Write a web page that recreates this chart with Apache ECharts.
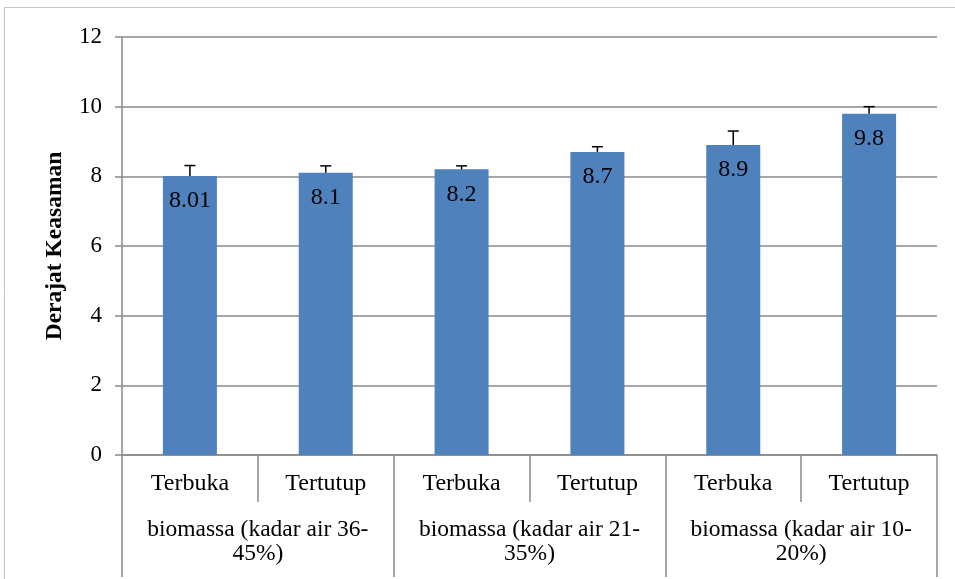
<!DOCTYPE html>
<html>
<head>
<meta charset="utf-8">
<script src="https://cdn.jsdelivr.net/npm/echarts@6/dist/echarts.min.js"></script>
<style>
html,body{margin:0;padding:0;background:#fff;}
#chart{width:955px;height:579px;}
</style>
</head>
<body>
<div id="chart"></div>
<script>
var subCategories = ['Terbuka', 'Tertutup', 'Terbuka', 'Tertutup', 'Terbuka', 'Tertutup'];
var groupCategories = ['biomassa (kadar air 36-\n45%)', 'biomassa (kadar air 21-\n35%)', 'biomassa (kadar air 10-\n20%)'];
var values = [8.01, 8.1, 8.2, 8.7, 8.9, 9.8];
var errors = [0.3, 0.2, 0.1, 0.15, 0.4, 0.2];
var yAxisTitle = 'Derajat Keasaman';

var FONT = "'Liberation Serif', 'Times New Roman', serif";
var chart = echarts.init(document.getElementById('chart'));

var errData = values.map(function (v, i) { return [i, v, errors[i]]; });

chart.setOption({
  backgroundColor: '#ffffff',
  animation: false,
  graphic: [{
    type: 'rect',
    shape: { x: 4.5, y: 7.5, width: 1000, height: 700 },
    style: { fill: 'none', stroke: '#c4c4c4', lineWidth: 1 },
    silent: true, z: -1
  }],
  grid: { left: 122, right: 18, top: 37, bottom: 124 },
  xAxis: [{
    type: 'category',
    data: subCategories,
    position: 'bottom',
    axisLine: { show: true, lineStyle: { color: '#8a8a8a', width: 1.5 } },
    axisTick: { show: true, interval: 0, length: 47, lineStyle: { color: '#8a8a8a', width: 1.5 } },
    axisLabel: { interval: 0, margin: 17, fontFamily: FONT, fontSize: 24, color: '#000' },
    splitLine: { show: false }
  }, {
    type: 'category',
    data: groupCategories,
    position: 'bottom',
    offset: 0,
    axisLine: { show: false },
    axisTick: { show: true, interval: 0, length: 122, lineStyle: { color: '#8a8a8a', width: 1.5 } },
    axisLabel: { interval: 0, margin: 63, fontFamily: FONT, fontSize: 23.5, color: '#000', lineHeight: 24 },
    splitLine: { show: false }
  }],
  yAxis: {
    type: 'value',
    min: 0, max: 12, interval: 2,
    name: yAxisTitle,
    nameLocation: 'middle',
    nameGap: 55,
    nameRotate: 90,
    nameTextStyle: { fontFamily: FONT, fontSize: 23.5, fontWeight: 'bold', color: '#000' },
    axisLine: { show: true, lineStyle: { color: '#8a8a8a', width: 1.5 } },
    axisTick: { show: true, length: 7, lineStyle: { color: '#8a8a8a', width: 1.5 } },
    axisLabel: { margin: 20, fontFamily: FONT, fontSize: 23, color: '#000' },
    splitLine: { show: true, lineStyle: { color: '#8a8a8a', width: 1.5 } }
  },
  series: [{
    type: 'bar',
    data: values,
    xAxisIndex: 0,
    barWidth: 54,
    itemStyle: { color: '#4F81BD' },
    label: {
      show: true,
      position: 'insideTop',
      distance: 13,
      fontFamily: FONT,
      fontSize: 24,
      color: '#000',
      formatter: function (p) { return String(values[p.dataIndex]); }
    },
    z: 2
  }, {
    type: 'custom',
    xAxisIndex: 0,
    data: errData,
    z: 3,
    renderItem: function (params, api) {
      var idx = api.value(0);
      var v = api.value(1);
      var e = api.value(2);
      var p0 = api.coord([idx, v]);
      var p1 = api.coord([idx, v + e]);
      var half = 5.5;
      return {
        type: 'group',
        children: [{
          type: 'line',
          shape: { x1: p0[0], y1: p0[1], x2: p1[0], y2: p1[1] },
          style: { stroke: '#000', lineWidth: 1.5 }
        }, {
          type: 'line',
          shape: { x1: p1[0] - half, y1: p1[1], x2: p1[0] + half, y2: p1[1] },
          style: { stroke: '#000', lineWidth: 1.5 }
        }]
      };
    }
  }]
});
</script>
</body>
</html>
